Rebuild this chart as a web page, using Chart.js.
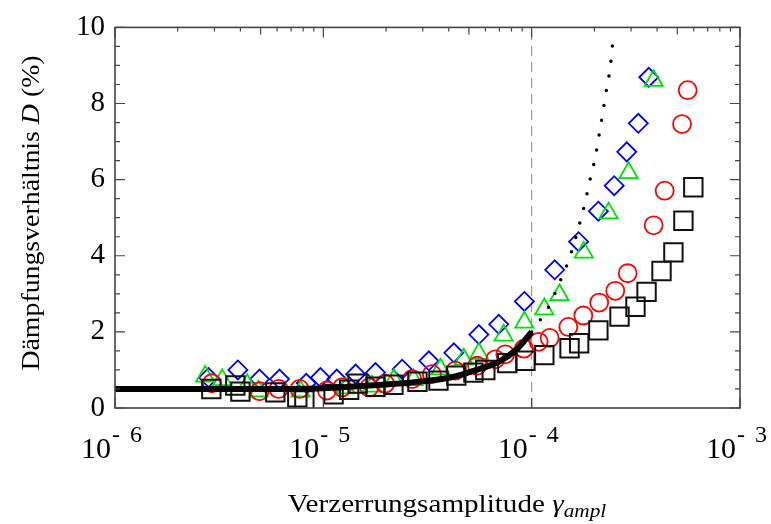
<!DOCTYPE html>
<html>
<head>
<meta charset="utf-8">
<script src="https://cdn.jsdelivr.net/npm/chart.js@4.4.0/dist/chart.umd.min.js"></script>
<style>
  html, body { margin: 0; padding: 0; background: #fff; }
</style>
</head>
<body>
<canvas id="chart" width="771" height="524"></canvas>
<script>
// axis ticks
const decades = [-6, -5, -4, -3];
const yTicks = [0, 2, 4, 6, 8, 10];

// black squares
const squareX = [2.90e-6, 3.78e-6, 4.00e-6, 5.88e-6, 7.50e-6, 8.11e-6, 1.12e-5, 1.33e-5, 1.46e-5, 1.78e-5, 2.17e-5, 2.83e-5, 3.57e-5, 4.35e-5, 5.25e-5, 5.99e-5, 7.64e-5, 9.33e-5, 1.15e-4, 1.52e-4, 1.69e-4, 2.09e-4, 2.64e-4, 3.15e-4, 3.56e-4, 4.20e-4, 4.79e-4, 5.35e-4, 5.97e-4];
const squareY = [0.50, 0.59, 0.43, 0.41, 0.28, 0.20, 0.36, 0.48, 0.64, 0.56, 0.61, 0.69, 0.72, 0.85, 0.93, 1.00, 1.18, 1.24, 1.39, 1.57, 1.70, 2.04, 2.40, 2.66, 3.05, 3.60, 4.09, 4.92, 5.80];

// red circles
const circleX = [2.92e-6, 4.94e-6, 6.10e-6, 7.69e-6, 1.04e-5, 1.23e-5, 1.66e-5, 1.98e-5, 2.67e-5, 3.32e-5, 4.30e-5, 5.47e-5, 6.69e-5, 7.47e-5, 9.18e-5, 1.08e-4, 1.22e-4, 1.50e-4, 1.77e-4, 2.11e-4, 2.52e-4, 2.89e-4, 3.85e-4, 4.35e-4, 5.27e-4, 5.61e-4];
const circleY = [0.65, 0.44, 0.50, 0.50, 0.46, 0.54, 0.54, 0.64, 0.76, 0.89, 0.98, 1.11, 1.28, 1.41, 1.56, 1.74, 1.84, 2.13, 2.43, 2.77, 3.08, 3.54, 4.80, 5.71, 7.46, 8.35];

// green triangles
const triangleX = [2.71e-6, 3.27e-6, 4.31e-6, 4.89e-6, 7.77e-6, 1.28e-5, 1.71e-5, 2.18e-5, 2.71e-5, 3.65e-5, 4.72e-5, 5.58e-5, 7.34e-5, 9.23e-5, 1.15e-4, 1.36e-4, 1.78e-4, 2.34e-4, 2.92e-4, 3.85e-4];
const triangleY = [0.83, 0.74, 0.61, 0.44, 0.44, 0.52, 0.57, 0.74, 0.74, 1.02, 1.28, 1.43, 1.91, 2.25, 2.60, 2.97, 4.09, 5.12, 6.18, 8.60];

// blue diamonds
const diamondX = [2.81e-6, 3.89e-6, 4.94e-6, 6.16e-6, 8.28e-6, 9.68e-6, 1.16e-5, 1.43e-5, 1.78e-5, 2.39e-5, 3.21e-5, 4.23e-5, 5.58e-5, 6.95e-5, 9.23e-5, 1.29e-4, 1.68e-4, 2.09e-4, 2.49e-4, 2.86e-4, 3.25e-4, 3.65e-4];
const diamondY = [0.80, 1.00, 0.76, 0.76, 0.65, 0.80, 0.76, 0.89, 0.93, 1.02, 1.24, 1.45, 1.93, 2.20, 2.80, 3.63, 4.37, 5.17, 5.84, 6.73, 7.48, 8.69];

// thick fit curve and its dotted continuation
const lineX = [1e-6, 5e-6, 1e-5, 1.35e-5, 2e-5, 3e-5, 4.07e-5, 5.3e-5, 7.08e-5, 8.5e-5, 1e-4];
const lineY = [0.5, 0.5, 0.52, 0.56, 0.62, 0.70, 0.80, 0.98, 1.24, 1.55, 2.0];
const dotX = [1e-4, 1.11e-4, 1.22e-4, 1.31e-4, 1.40e-4, 1.50e-4, 1.58e-4, 1.66e-4, 1.73e-4, 1.81e-4, 1.87e-4, 2.02e-4, 2.14e-4, 2.26e-4, 2.39e-4, 2.47e-4];
const dotY = [2.0, 2.35, 2.71, 3.08, 3.46, 3.85, 4.24, 4.63, 5.02, 5.41, 5.80, 6.59, 7.39, 8.20, 9.02, 9.84];

// vertical reference line
const refX = 1e-4;

const serif = "'Liberation Serif', 'Times New Roman', serif";

function pts(xs, ys) {
    return xs.map((x, i) => ({x: x, y: ys[i]}));
}

function markerSet(xs, ys, style, color, radius, width, order) {
    return {
        data: pts(xs, ys),
        showLine: false,
        pointStyle: style,
        pointRadius: radius,
        pointHoverRadius: radius,
        pointBorderColor: color,
        pointBackgroundColor: 'rgba(0,0,0,0)',
        pointBorderWidth: width,
        order: order,
    };
}

// draw text runs with mixed fonts, centred on cx
function drawRuns(ctx, runs, cx, baseY, stretch) {
    let total = 0;
    runs.forEach(r => { ctx.font = r.font; r.w = ctx.measureText(r.text).width; total += r.w; });
    ctx.save();
    ctx.translate(cx, baseY);
    ctx.scale(stretch, 1);
    let x = -total / 2;
    runs.forEach(r => {
        ctx.font = r.font;
        ctx.fillText(r.text, x, r.dy || 0);
        x += r.w;
    });
    ctx.restore();
}

const frameAndLabels = {
    id: 'frameAndLabels',
    afterDatasetsDraw(chart) {
        const {ctx, chartArea: a, scales: {x, y}} = chart;
        ctx.save();
        ctx.strokeStyle = '#444';
        ctx.lineWidth = 1.6;
        ctx.strokeRect(a.left, a.top, a.right - a.left, a.bottom - a.top);

        ctx.lineWidth = 1.2;
        ctx.beginPath();
        for (let v = 0; v <= 10; v += 0.5) {
            const py = y.getPixelForValue(v);
            const len = v % 2 === 0 ? 10 : 5;
            ctx.moveTo(a.left, py); ctx.lineTo(a.left + len, py);
            ctx.moveTo(a.right, py); ctx.lineTo(a.right - len, py);
        }
        decades.forEach(d => {
            const px = x.getPixelForValue(Math.pow(10, d));
            ctx.moveTo(px, a.bottom); ctx.lineTo(px, a.bottom - 10);
            ctx.moveTo(px, a.top); ctx.lineTo(px, a.top + 10);
            if (d < -3) {
                for (let m = 2; m <= 9; m++) {
                    const p = x.getPixelForValue(m * Math.pow(10, d));
                    ctx.moveTo(p, a.top); ctx.lineTo(p, a.top + (m === 5 ? 7 : 4));
                }
            }
        });
        ctx.stroke();

        // x tick labels 10^-n
        ctx.fillStyle = '#000';
        ctx.textBaseline = 'alphabetic';
        ctx.textAlign = 'left';
        decades.forEach(d => {
            const px = x.getPixelForValue(Math.pow(10, d));
            const x0 = px - 34;
            ctx.font = '30px ' + serif;
            ctx.fillText('10', x0, 458);
            ctx.font = '24px ' + serif;
            ctx.fillText('-', x0 + 31, 442);
            ctx.fillText(String(-d), x0 + 49, 442);
        });

        // x axis title
        drawRuns(ctx, [
            {text: 'Verzerrungsamplitude ', font: '26px ' + serif},
            {text: 'γ', font: 'italic 26px ' + serif},
            {text: 'ampl', font: 'italic 19px ' + serif, dy: 5},
        ], 447, 512, 1.12);

        // y axis title
        ctx.save();
        ctx.translate(39, 213);
        ctx.rotate(-Math.PI / 2);
        drawRuns(ctx, [
            {text: 'Dämpfungsverhältnis ', font: '26px ' + serif},
            {text: 'D', font: 'italic 26px ' + serif},
            {text: ' (%)', font: '26px ' + serif},
        ], 0, 0, 1.07);
        ctx.restore();

        ctx.restore();
    }
};

new Chart(document.getElementById('chart'), {
    type: 'scatter',
    data: {
        datasets: [
            {
                data: pts(lineX, lineY),
                showLine: true,
                borderColor: '#000',
                borderWidth: 6,
                pointRadius: 0,
                cubicInterpolationMode: 'monotone',
                order: 0,
            },
            {
                data: pts(dotX, dotY),
                showLine: true,
                borderColor: '#000',
                borderWidth: 3.5,
                borderCapStyle: 'round',
                borderDash: [0, 15],
                pointRadius: 0,
                cubicInterpolationMode: 'monotone',
                order: 0,
            },
            markerSet(squareX, squareY, 'rect', '#111', 13, 2, 1),
            markerSet(circleX, circleY, 'circle', '#ff0000', 9, 1.8, 2),
            markerSet(triangleX, triangleY, 'triangle', '#00e000', 10.5, 1.8, 3),
            markerSet(diamondX, diamondY, 'rectRot', '#0000ff', 9.5, 1.8, 4),
            {
                data: [{x: refX, y: 0}, {x: refX, y: 10}],
                showLine: true,
                borderColor: '#888',
                borderWidth: 1,
                borderDash: [10, 6],
                pointRadius: 0,
                order: 5,
            },
        ],
    },
    options: {
        responsive: false,
        animation: false,
        layout: {padding: {left: 0, right: 31, top: 22, bottom: 116}},
        scales: {
            x: {
                type: 'logarithmic',
                min: 1e-6,
                max: 1e-3,
                display: false,
            },
            y: {
                min: 0,
                max: 10,
                afterFit(scale) { scale.width = 115; },
                afterBuildTicks(scale) { scale.ticks = yTicks.map(v => ({value: v})); },
                grid: {display: false, drawTicks: false},
                border: {display: false},
                ticks: {
                    color: '#000',
                    padding: 10,
                    font: {family: serif, size: 29},
                },
            },
        },
        plugins: {
            legend: {display: false},
            tooltip: {enabled: false},
        },
    },
    plugins: [frameAndLabels],
});
</script>
</body>
</html>
